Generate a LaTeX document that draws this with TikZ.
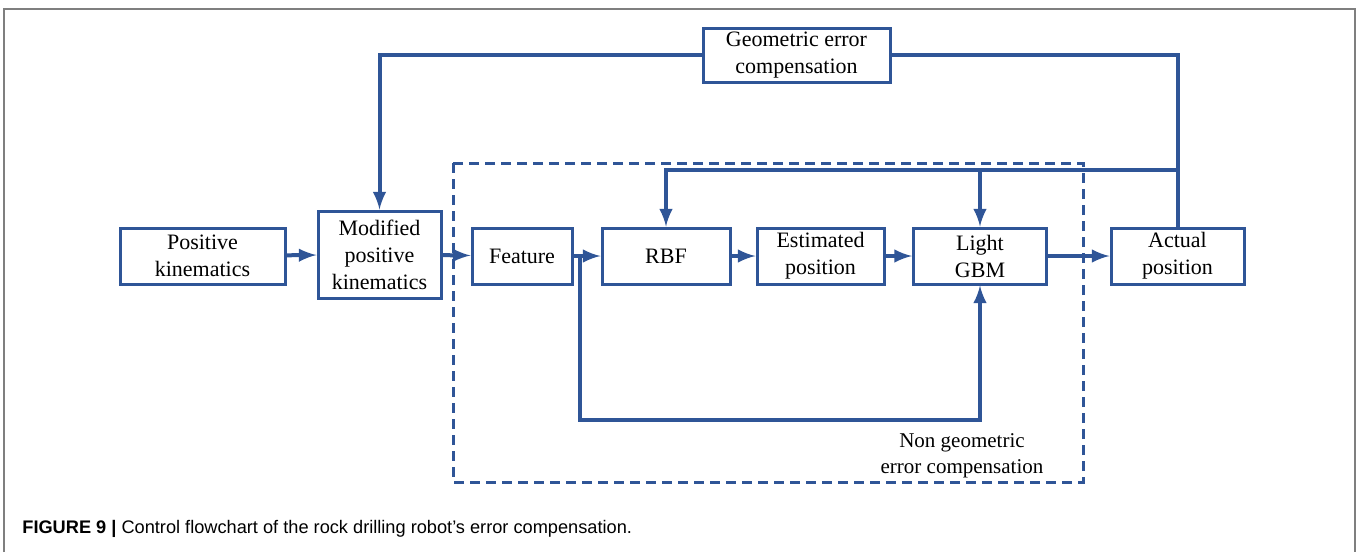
\documentclass[tikz,border=0pt]{standalone}
\usepackage{fontspec}
\setmainfont{Liberation Serif}
\newfontfamily\capfont{Liberation Sans}
\usetikzlibrary{positioning}
\definecolor{fig-blue}{HTML}{2F5597}
\definecolor{fig-gray}{HTML}{7F7F7F}
\tikzset{
  block/.style 2 args={
    draw=fig-blue,
    line width=1.5pt,
    align=center,
    inner sep=0pt,
    minimum width=#1,
    minimum height=#2,
    font=\fontsize{11}{13.5}\selectfont},
}

\begin{document}
\begin{tikzpicture}[
  x=0.5pt, y=-0.5pt,
  flow/.style={line width=2pt, fig-blue, -latex},
  wire/.style={line width=2pt, fig-blue},
  region/.style={line width=1.5pt, fig-blue, dash pattern=on 5pt off 3pt}
]
\useasboundingbox (0,0) rectangle (1360,552);

% Frame
\draw[fig-gray, line width=1pt] (4,552) -- (4,9) -- (1355,9) -- (1355,552);

% Main chain
\node[block={82.5pt}{28pt}] (posk) at (202.5,256) {Positive\\kinematics};
\node[block={61.5pt}{43.5pt}] (modk) at (379.5,254.5) {Modified\\positive\\kinematics};
\node[block={50pt}{28pt}] (feat) at (522,256) {Feature};
\node[block={64pt}{28pt}] (rbf) at (666,256) {RBF};
\node[block={63.5pt}{28pt}] (estp) at (820.5,256) {Estimated\\position};
\node[block={66.5pt}{28pt}] (lgbm) at (980,256) {Light\\GBM};
\node[block={66.5pt}{28pt}] (actp) at (1177.5,256) {Actual\\position};
\node[block={93.5pt}{27pt}] (geo) at (796.5,55) {Geometric error\\compensation};

% Non geometric region
\draw[region] (453,163) rectangle (1083,482);
\node[font=\fontsize{10.5}{13}\selectfont, align=center] (ngec) at (962,456) {Non geometric\\error compensation};

\draw[flow] (posk) -- (modk);
\draw[flow] (modk) -- (feat);
\draw[flow] (feat) -- (rbf);
\draw[flow] (rbf) -- (estp);
\draw[flow] (estp) -- (lgbm);
\draw[flow] (lgbm) -- (actp);

% Geometric loop
\draw[wire] (actp.north) |- (geo.east);
\draw[flow] (geo.west) -| (modk.north);

% Inner feedback
\coordinate (fb) at (1177.5,170);
\draw[flow] (fb) -| (rbf.north);
\draw[flow] (fb) -| (lgbm.north);

% Feature bypass
\coordinate (split) at (580,256);
\coordinate (low) at (580,420);
\draw[flow] (split) -- (low) -| (lgbm.south);

% Caption
\node[anchor=base west, inner sep=0pt, font=\capfont\fontsize{9.1}{11}\selectfont] (cap) at (22,533)
  {\textbf{FIGURE 9 |} Control flowchart of the rock drilling robot’s error compensation.};
\end{tikzpicture}
\end{document}
